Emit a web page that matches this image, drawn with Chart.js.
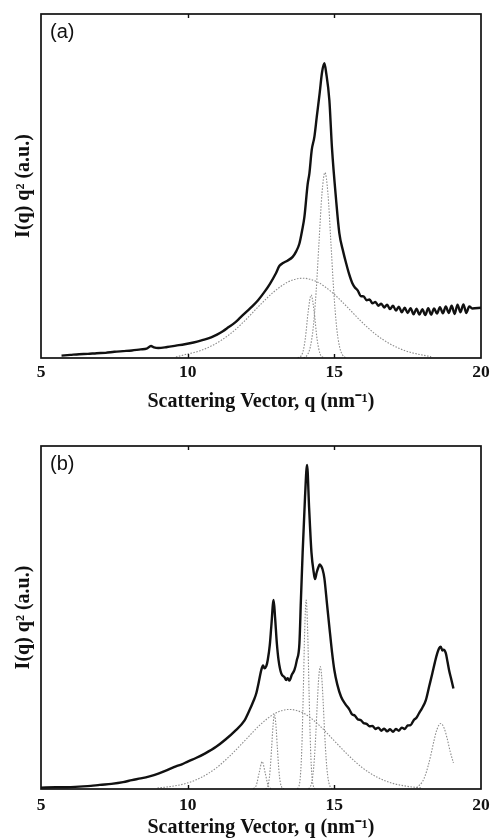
<!DOCTYPE html>
<html>
<head>
<meta charset="utf-8">
<script src="https://cdn.jsdelivr.net/npm/chart.js@4.4.1/dist/chart.umd.min.js"></script>
<style>
  html, body { margin: 0; padding: 0; background: #fff; width: 490px; height: 840px; overflow: hidden; }
  .panel { position: absolute; left: 0; }
</style>
</head>
<body>
<div class="panel" style="top:0"><canvas id="chartA" width="500" height="420"></canvas></div>
<div class="panel" style="top:420px"><canvas id="chartB" width="500" height="420"></canvas></div>
<script>
// Scattering vector axis ticks (nm^-1)
const xTicks = [5, 10, 15, 20];

// ---- Panel (a): measured I(q) q^2 and fitted components ----
const qA = [5.7, 6.0, 6.3, 6.6, 6.9, 7.2, 7.5, 7.8, 8.1, 8.4, 8.6, 8.75, 8.85, 9.0, 9.3, 9.6, 9.9, 10.2, 10.5, 10.8,
  11.0, 11.2, 11.4, 11.6, 11.8, 12.0, 12.2, 12.4, 12.6, 12.8, 13.0, 13.13, 13.25, 13.4, 13.58, 13.7, 13.81, 13.9, 13.98, 14.09,
  14.15, 14.23, 14.32, 14.4, 14.5, 14.58, 14.66, 14.72, 14.83, 14.92, 15.06, 15.17, 15.3, 15.4, 15.5, 15.61, 15.7, 15.8, 15.9, 16.0,
  16.1, 16.2, 16.3, 16.4, 16.5, 16.6, 16.7, 16.8, 16.9, 17.0, 17.1, 17.2, 17.3, 17.4, 17.5, 17.6, 17.7, 17.8, 17.9, 18.0,
  18.1, 18.2, 18.3, 18.4, 18.5, 18.6, 18.7, 18.8, 18.9, 19.0, 19.1, 19.2, 19.3, 19.4, 19.5, 19.6, 19.7, 20.0];
const iA = [0.007, 0.009, 0.011, 0.012, 0.014, 0.015, 0.018, 0.020, 0.022, 0.025, 0.027, 0.035, 0.031, 0.029, 0.032, 0.036, 0.040, 0.045, 0.052, 0.060,
  0.068, 0.078, 0.090, 0.102, 0.118, 0.134, 0.150, 0.168, 0.190, 0.215, 0.245, 0.268, 0.276, 0.283, 0.294, 0.310, 0.333, 0.370, 0.410, 0.505,
  0.537, 0.605, 0.643, 0.700, 0.770, 0.830, 0.857, 0.830, 0.750, 0.610, 0.460, 0.363, 0.310, 0.276, 0.245, 0.218, 0.205, 0.196, 0.180, 0.179,
  0.168, 0.170, 0.159, 0.163, 0.152, 0.158, 0.147, 0.155, 0.142, 0.152, 0.138, 0.149, 0.133, 0.146, 0.131, 0.145, 0.127, 0.143, 0.126, 0.142,
  0.125, 0.145, 0.126, 0.144, 0.129, 0.148, 0.130, 0.150, 0.131, 0.152, 0.128, 0.155, 0.133, 0.156, 0.131, 0.150, 0.144, 0.146];

const qA_broad = [9.6, 9.92, 10.42, 10.92, 11.42, 11.92, 12.42, 12.92, 13.42, 13.92, 14.42, 14.92, 15.42, 15.92, 16.42, 16.92, 17.42, 17.92, 18.3];
const iA_broad = [0.003, 0.010, 0.021, 0.040, 0.068, 0.106, 0.150, 0.191, 0.221, 0.232, 0.221, 0.191, 0.150, 0.106, 0.068, 0.040, 0.021, 0.010, 0.004];

const qA_p1 = [13.75, 13.91, 14.01, 14.11, 14.21, 14.31, 14.41, 14.51, 14.65];
const iA_p1 = [0.000, 0.013, 0.056, 0.136, 0.183, 0.136, 0.056, 0.013, 0.000];

const qA_p2 = [13.95, 14.08, 14.18, 14.28, 14.38, 14.48, 14.58, 14.68, 14.78, 14.88, 14.98, 15.08, 15.18, 15.28, 15.4];
const iA_p2 = [0.000, 0.009, 0.032, 0.088, 0.194, 0.340, 0.480, 0.539, 0.480, 0.340, 0.194, 0.088, 0.032, 0.009, 0.000];

// ---- Panel (b): measured I(q) q^2 and fitted components ----
const qB = [5.0, 5.5, 5.9, 6.3, 6.7, 7.0, 7.4, 7.8, 8.1, 8.4, 8.7, 9.0, 9.3, 9.6, 9.8, 10.0, 10.3, 10.6, 10.97, 11.3,
  11.6, 11.94, 12.11, 12.25, 12.34, 12.42, 12.51, 12.57, 12.62, 12.68, 12.73, 12.8, 12.85, 12.93, 12.98, 13.04, 13.1, 13.19, 13.3, 13.36,
  13.41, 13.47, 13.55, 13.64, 13.72, 13.81, 13.86, 13.92, 14.0, 14.07, 14.14, 14.22, 14.3, 14.34, 14.4, 14.45, 14.5, 14.55, 14.6, 14.66,
  14.75, 14.83, 14.92, 15.0, 15.1, 15.23, 15.37, 15.51, 15.6, 15.7, 15.8, 15.9, 16.0, 16.1, 16.2, 16.3, 16.4, 16.5, 16.6, 16.7,
  16.8, 16.9, 17.0, 17.1, 17.2, 17.3, 17.4, 17.5, 17.6, 17.7, 17.8, 17.89, 18.0, 18.12, 18.23, 18.34, 18.43, 18.51, 18.57, 18.63,
  18.68, 18.72, 18.8, 18.86, 18.91, 19.0, 19.06];
const iB = [0.004, 0.005, 0.005, 0.007, 0.009, 0.012, 0.015, 0.020, 0.026, 0.031, 0.037, 0.045, 0.055, 0.066, 0.072, 0.080, 0.091, 0.104, 0.123, 0.145,
  0.168, 0.200, 0.230, 0.258, 0.279, 0.310, 0.347, 0.360, 0.352, 0.358, 0.376, 0.420, 0.473, 0.551, 0.500, 0.425, 0.375, 0.337, 0.326, 0.318,
  0.323, 0.316, 0.333, 0.347, 0.375, 0.425, 0.550, 0.690, 0.850, 0.945, 0.820, 0.690, 0.630, 0.612, 0.632, 0.645, 0.655, 0.650, 0.640, 0.615,
  0.540, 0.473, 0.400, 0.347, 0.305, 0.269, 0.248, 0.232, 0.218, 0.214, 0.203, 0.201, 0.192, 0.190, 0.183, 0.184, 0.175, 0.179, 0.170, 0.176,
  0.168, 0.174, 0.167, 0.175, 0.170, 0.179, 0.175, 0.185, 0.186, 0.200, 0.208, 0.221, 0.237, 0.259, 0.298, 0.337, 0.370, 0.396, 0.410, 0.415,
  0.404, 0.406, 0.396, 0.370, 0.347, 0.315, 0.293];

const qB_broad = [8.97, 9.47, 9.97, 10.47, 10.97, 11.47, 11.97, 12.47, 12.97, 13.47, 13.97, 14.47, 14.97, 15.47, 15.97, 16.47, 16.97, 17.47, 17.97];
const iB_broad = [0.003, 0.008, 0.017, 0.034, 0.061, 0.099, 0.143, 0.187, 0.220, 0.232, 0.220, 0.187, 0.143, 0.099, 0.061, 0.034, 0.017, 0.008, 0.003];

const qB_p1 = [12.24, 12.34, 12.44, 12.54, 12.64, 12.74, 12.84];
const iB_p1 = [0.001, 0.011, 0.048, 0.080, 0.048, 0.011, 0.001];

const qB_p2 = [12.66, 12.71, 12.76, 12.81, 12.86, 12.91, 12.96, 13.01, 13.06, 13.11, 13.16, 13.21, 13.28];
const iB_p2 = [0.000, 0.005, 0.018, 0.054, 0.117, 0.185, 0.216, 0.185, 0.117, 0.054, 0.018, 0.005, 0.000];

const qB_p3 = [13.74, 13.79, 13.84, 13.89, 13.94, 13.99, 14.04, 14.09, 14.14, 14.19, 14.24, 14.29, 14.34];
const iB_p3 = [0.001, 0.007, 0.035, 0.116, 0.276, 0.463, 0.551, 0.463, 0.276, 0.116, 0.035, 0.007, 0.001];

const qB_p4 = [14.12, 14.17, 14.22, 14.27, 14.32, 14.37, 14.42, 14.47, 14.52, 14.57, 14.62, 14.67, 14.72, 14.77, 14.82, 14.87, 14.92];
const iB_p4 = [0.001, 0.005, 0.016, 0.041, 0.089, 0.163, 0.252, 0.327, 0.357, 0.327, 0.252, 0.163, 0.089, 0.041, 0.016, 0.005, 0.001];

const qB_p5 = [17.8, 18.0, 18.1, 18.2, 18.3, 18.4, 18.5, 18.63, 18.75, 18.85, 18.95, 19.06];
const iB_p5 = [0.004, 0.021, 0.040, 0.068, 0.103, 0.142, 0.174, 0.191, 0.176, 0.146, 0.109, 0.076];

const SERIF = "'Liberation Serif', 'Times New Roman', serif";
const SANS = "'Liberation Sans', Arial, sans-serif";

function pts(xs, ys) { return xs.map((x, i) => ({ x: x, y: ys[i] })); }

function measured(xs, ys) {
  return { data: pts(xs, ys), borderColor: '#111', borderWidth: 2.4, pointRadius: 0,
           cubicInterpolationMode: 'monotone', order: 0 };
}
function component(xs, ys) {
  return { data: pts(xs, ys), borderColor: '#8c8c8c', borderWidth: 1.1, borderDash: [1.5, 1.5],
           pointRadius: 0, cubicInterpolationMode: 'monotone', order: 1 };
}

// Box frame, inward tick marks and the panel letter
const framePlugin = {
  id: 'frame',
  afterDatasetsDraw(chart, args, opts) {
    const { ctx, chartArea: a, scales: { x } } = chart;
    ctx.save();
    ctx.strokeStyle = '#111';
    ctx.lineWidth = 1.7;
    ctx.strokeRect(a.left, a.top, a.right - a.left, a.bottom - a.top);
    ctx.lineWidth = 1.4;
    xTicks.slice(1, -1).forEach(v => {
      const px = Math.round(x.getPixelForValue(v)) + 0.5;
      ctx.beginPath();
      ctx.moveTo(px, a.top); ctx.lineTo(px, a.top + 4);
      ctx.moveTo(px, a.bottom); ctx.lineTo(px, a.bottom - 4);
      ctx.stroke();
    });
    ctx.fillStyle = '#111';
    ctx.font = '20px ' + SANS;
    ctx.textBaseline = 'alphabetic';
    ctx.fillText(opts.label, a.left + 9, a.top + 24);
    ctx.restore();
  }
};

function makeChart(id, datasets, label, padTop, axisH, tickPad, titlePadBottom) {
  return new Chart(document.getElementById(id), {
    type: 'line',
    data: { datasets: datasets },
    plugins: [framePlugin],
    options: {
      responsive: false,
      animation: false,
      layout: { padding: { left: 0, right: 19, top: padTop, bottom: 0 } },
      plugins: { legend: { display: false }, tooltip: { enabled: false }, frame: { label: label } },
      scales: {
        x: {
          type: 'linear', min: 5, max: 20,
          afterBuildTicks: s => { s.ticks = xTicks.map(v => ({ value: v })); },
          afterFit: s => { s.height = axisH; },
          grid: { display: false, drawTicks: false },
          border: { display: false },
          ticks: { color: '#111', padding: tickPad, maxRotation: 0, autoSkip: false,
                   font: { family: SERIF, size: 17.5, weight: 'bold' } },
          title: { display: true, text: 'Scattering Vector, q (nm\u207B\u00B9)', color: '#111',
                   font: { family: SERIF, size: 20, weight: 'bold' },
                   padding: { top: 0, bottom: titlePadBottom } }
        },
        y: {
          min: 0, max: 1,
          afterFit: s => { s.width = 41; },
          grid: { display: false, drawTicks: false },
          border: { display: false },
          ticks: { display: false },
          title: { display: true, text: 'I(q) q\u00B2 (a.u.)', color: '#111',
                   font: { family: SERIF, size: 20, weight: 'bold' },
                   padding: { top: 12, bottom: 0 } }
        }
      }
    }
  });
}

makeChart('chartA', [
  measured(qA, iA),
  component(qA_broad, iA_broad),
  component(qA_p1, iA_p1),
  component(qA_p2, iA_p2)
], '(a)', 14, 62, 4, 6);

makeChart('chartB', [
  measured(qB, iB),
  component(qB_broad, iB_broad),
  component(qB_p1, iB_p1),
  component(qB_p2, iB_p2),
  component(qB_p3, iB_p3),
  component(qB_p4, iB_p4),
  component(qB_p5, iB_p5)
], '(b)', 26, 51, 6, 0);
</script>
</body>
</html>
